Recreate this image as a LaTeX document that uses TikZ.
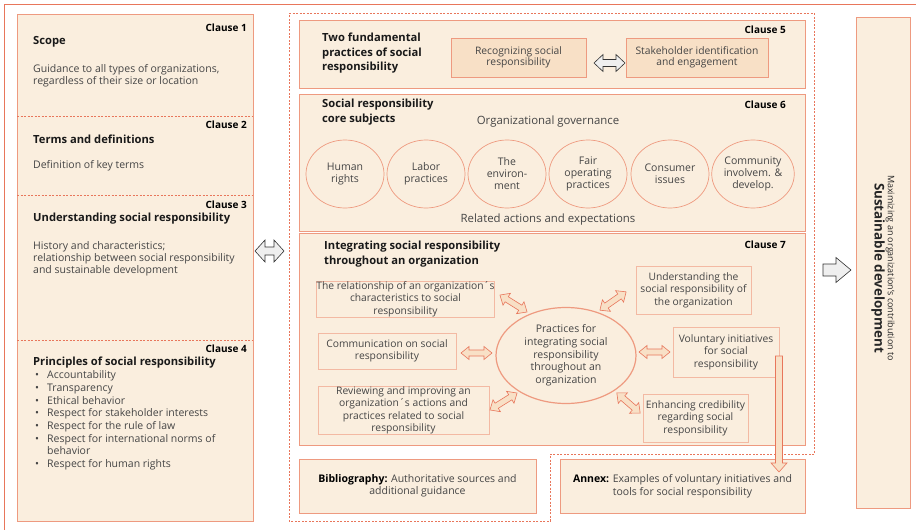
\documentclass[tikz,border=0pt]{standalone}
\usepackage{fontspec}
\setmainfont{Open Sans}
\usetikzlibrary{shapes.geometric}

\definecolor{paper}{HTML}{FAEEDE}
\definecolor{edge}{HTML}{EE9A80}
\definecolor{softedge}{HTML}{F3B9A3}
\definecolor{frame}{HTML}{E8765B}
\definecolor{deep}{HTML}{F8E0C6}
\definecolor{ink}{HTML}{454545}
\definecolor{fog}{HTML}{EFEFEF}

\newcommand\bodyfont{\fontsize{10.5}{11.5}\selectfont}
\newcommand\headfont{\fontsize{11.2}{14.5}\selectfont\bfseries}
\newcommand\tagfont{\fontsize{10}{11}\selectfont\bfseries}

\tikzset{
  panel/.style={rectangle, draw=edge, fill=paper, line width=1pt, inner sep=0pt},
  keybox/.style={rectangle, draw=edge, fill=deep, line width=0.8pt, inner sep=0pt,
    align=center, text=ink, font=\fontsize{10.3}{11.5}\selectfont},
  subbox/.style={rectangle, draw=softedge, line width=0.8pt, inner sep=0pt,
    align=center, text=ink, font=\fontsize{10.3}{12.5}\selectfont},
  subject/.style={ellipse, draw=edge, line width=0.7pt, inner sep=0pt,
    minimum width=78pt, minimum height=68pt, align=center, text=ink,
    font=\fontsize{10.5}{12}\selectfont},
  tag/.style={anchor=east, inner sep=0pt, font=\tagfont, text=black},
  head/.style={anchor=west, inner sep=0pt, align=left, font=\headfont, text=black!90},
  body/.style={anchor=west, inner sep=0pt, align=left, font=\bodyfont, text=ink},
  sep/.style={draw=frame, dashed, line width=0.6pt, dash pattern=on 2pt off 1.5pt},
  greyarrow/.style={draw=black!80, fill=fog, line width=0.6pt},
  linkarrow/.style={draw=frame, fill=deep, line width=0.6pt, line join=miter},
  % double-headed block arrow: length / head half-width / shaft half-width / head length
  pics/twoway/.style args={#1/#2/#3/#4}{code={
    \path[pic actions] (-#1/2,0) -- (-#1/2+#4,#2) -- (-#1/2+#4,#3) -- (#1/2-#4,#3)
      -- (#1/2-#4,#2) -- (#1/2,0) -- (#1/2-#4,-#2) -- (#1/2-#4,-#3)
      -- (-#1/2+#4,-#3) -- (-#1/2+#4,-#2) -- cycle;
  }},
  % single-headed block arrow, same arguments
  pics/oneway/.style args={#1/#2/#3/#4}{code={
    \path[pic actions] (-#1/2,-#3) -- (#1/2-#4,-#3) -- (#1/2-#4,-#2) -- (#1/2,0)
      -- (#1/2-#4,#2) -- (#1/2-#4,#3) -- (-#1/2,#3) -- cycle;
  }},
}

\begin{document}
\begin{tikzpicture}[x=1pt, y=-1pt]
\useasboundingbox (0,0) rectangle (916,530);

% outer frame
\draw[frame, line width=1pt] (4,530) -- (4,4) -- (916,4);

% ---------- left column: clauses 1 to 4
\node[panel, minimum width=236pt, minimum height=507pt] (left) at (135,267.5) {};
\draw[sep] (17,116) -- (253,116);
\draw[sep] (17,195) -- (253,195);
\draw[sep] (17,340) -- (253,340);

\node[tag] (c1) at (247,28) {Clause 1};
\node[head] (t1) at (33,42) {Scope};
\node[body] (b1) at (33,75.5) {Guidance to all types of organizations,\\regardless of their size or location};

\node[tag] (c2) at (247,125) {Clause 2};
\node[head] (t2) at (33,139) {Terms and definitions};
\node[body] (b2) at (33,166) {Definition of key terms};

\node[tag] (c3) at (247,205) {Clause 3};
\node[head] (t3) at (33,219) {Understanding social responsibility};
\node[body, font=\fontsize{10.5}{12}\selectfont] (b3) at (33,259) {History and characteristics;\\relationship between social responsibility\\and sustainable development};

\node[tag] (c4) at (247,349) {Clause 4};
\node[head] (t4) at (33,363) {Principles of social responsibility};
\node[body, font=\fontsize{10.5}{12.7}\selectfont] (b4) at (35,420.5) {%
\makebox[12pt][l]{•}Accountability\\
\makebox[12pt][l]{•}Transparency\\
\makebox[12pt][l]{•}Ethical behavior\\
\makebox[12pt][l]{•}Respect for stakeholder interests\\
\makebox[12pt][l]{•}Respect for the rule of law\\
\makebox[12pt][l]{•}Respect for international norms of\\
\makebox[12pt][l]{}behavior\\
\makebox[12pt][l]{•}Respect for human rights};

% ---------- middle column outline
\draw[sep] (289,13) -- (814,13) -- (814,454) -- (550,454) -- (550,521) -- (289,521) -- cycle;

% clause 5
\node[panel, minimum width=506pt, minimum height=68pt] (p5) at (552,54) {};
\node[tag] (c5) at (786,30) {Clause 5};
\node[head] (t5) at (322,53.5) {Two fundamental\\practices of social\\responsibility};
\node[keybox, minimum width=135pt, minimum height=39pt] (recog) at (518.5,57.5) {Recognizing social\\responsibility};
\node[keybox, minimum width=142pt, minimum height=39pt] (stake) at (697,57.5) {Stakeholder identification\\and engagement};
\pic[greyarrow] at (609.5,63) {twoway=31/8.5/3.5/9};

% clause 6
\node[panel, minimum width=506pt, minimum height=137pt] (p6) at (552,162.5) {};
\node[tag] (c6) at (786,105) {Clause 6};
\node[head, font=\fontsize{11.2}{15}\selectfont\bfseries] (t6) at (322,112.5) {Social responsibility\\core subjects};
\node[inner sep=0pt, text=ink, font=\fontsize{11.4}{12}\selectfont] (gov) at (548,122) {Organizational governance};
\node[subject] (s1) at (345,174) {Human\\rights};
\node[subject] (s2) at (426,174) {Labor\\practices};
\node[subject] (s3) at (507,174) {The\\environ-\\ment};
\node[subject] (s4) at (588,174) {Fair\\operating\\practices};
\node[subject] (s5) at (670,174) {Consumer\\issues};
\node[subject] (s6) at (753,174) {Community\\involvem. \&\\develop.};
\node[inner sep=0pt, text=ink, font=\fontsize{11.4}{12}\selectfont] (rel) at (548,220) {Related actions and expectations};

% clause 7
\node[panel, minimum width=506pt, minimum height=212pt] (p7) at (552,339) {};
\node[tag] (c7) at (786,245) {Clause 7};
\node[head, font=\fontsize{11.2}{15}\selectfont\bfseries] (t7) at (324,254.5) {Integrating social responsibility\\throughout an organization};
\node[ellipse, draw=edge, line width=1.2pt, inner sep=0pt, minimum width=140pt,
      minimum height=96pt, align=center, text=ink,
      font=\fontsize{10.5}{12.7}\selectfont] (core) at (566,355.5)
      {Practices for\\integrating social\\responsibility\\throughout an\\organization};

\node[subbox, minimum width=177pt, minimum height=36pt] (chars) at (405.5,299) {The relationship of an organization´s\\characteristics to social\\responsibility};
\node[subbox, minimum width=115pt, minimum height=48pt] (under) at (693.5,290) {Understanding the\\social responsibility of\\the organization};
\node[subbox, minimum width=138pt, minimum height=36pt] (comm) at (387,351) {Communication on social\\responsibility};
\node[subbox, minimum width=106pt, minimum height=50pt] (volun) at (726,352) {Voluntary initiatives\\for social\\responsibility};
\node[subbox, minimum width=171pt, minimum height=47pt] (review) at (403.5,410.5) {Reviewing and improving an\\organization´s actions and\\practices related to social\\responsibility};
\node[subbox, minimum width=105pt, minimum height=48pt] (cred) at (695.5,418) {Enhancing credibility\\regarding social\\responsibility};

\pic[linkarrow, rotate=-32] at (513.5,303.5) {twoway=32/7/3/8};
\pic[linkarrow, rotate=35] at (613,301) {twoway=32/7/3/8};
\pic[linkarrow] at (476.5,353) {twoway=31/6.5/3/8};
\pic[linkarrow] at (654.5,352) {twoway=31/6.5/3/8};
\pic[linkarrow, rotate=32] at (503.5,401.5) {twoway=32/7/3/8};
\pic[linkarrow, rotate=-41] at (628.5,403) {twoway=31/7/3/8};

% bibliography and annex
\node[panel, minimum width=237pt, minimum height=54pt, align=center, text=ink,
      font=\fontsize{10.5}{12.5}\selectfont] (bib) at (417.5,486)
      {\textbf{\color{black}Bibliography:} Authoritative sources and\\additional guidance};
\node[panel, minimum width=245pt, minimum height=54pt, align=center, text=ink,
      font=\fontsize{10.5}{12.5}\selectfont] (annex) at (682.5,486)
      {\textbf{\color{black}Annex:} Examples of voluntary initiatives and\\tools for social responsibility};

% voluntary initiatives lead to the annex
\pic[linkarrow, rotate=-90] at (779,414) {oneway=116/8/3.5/9};

% left column tied to the middle column
\pic[greyarrow] at (269.5,251) {twoway=29/11/4/10};

% contribution
\pic[greyarrow] at (837,270) {oneway=28/12.5/6/15};
\node[panel, minimum width=54pt, minimum height=491pt] (goal) at (883,262.5) {};
\node[rotate=-90, align=center, inner sep=0pt, text=black!85] (goaltext) at (883,268)
  {{\fontsize{9}{13}\selectfont Maximizing an organization’s contribution to}\\
   {\fontsize{13.4}{13}\selectfont\bfseries Sustainable development}};
\end{tikzpicture}
\end{document}
